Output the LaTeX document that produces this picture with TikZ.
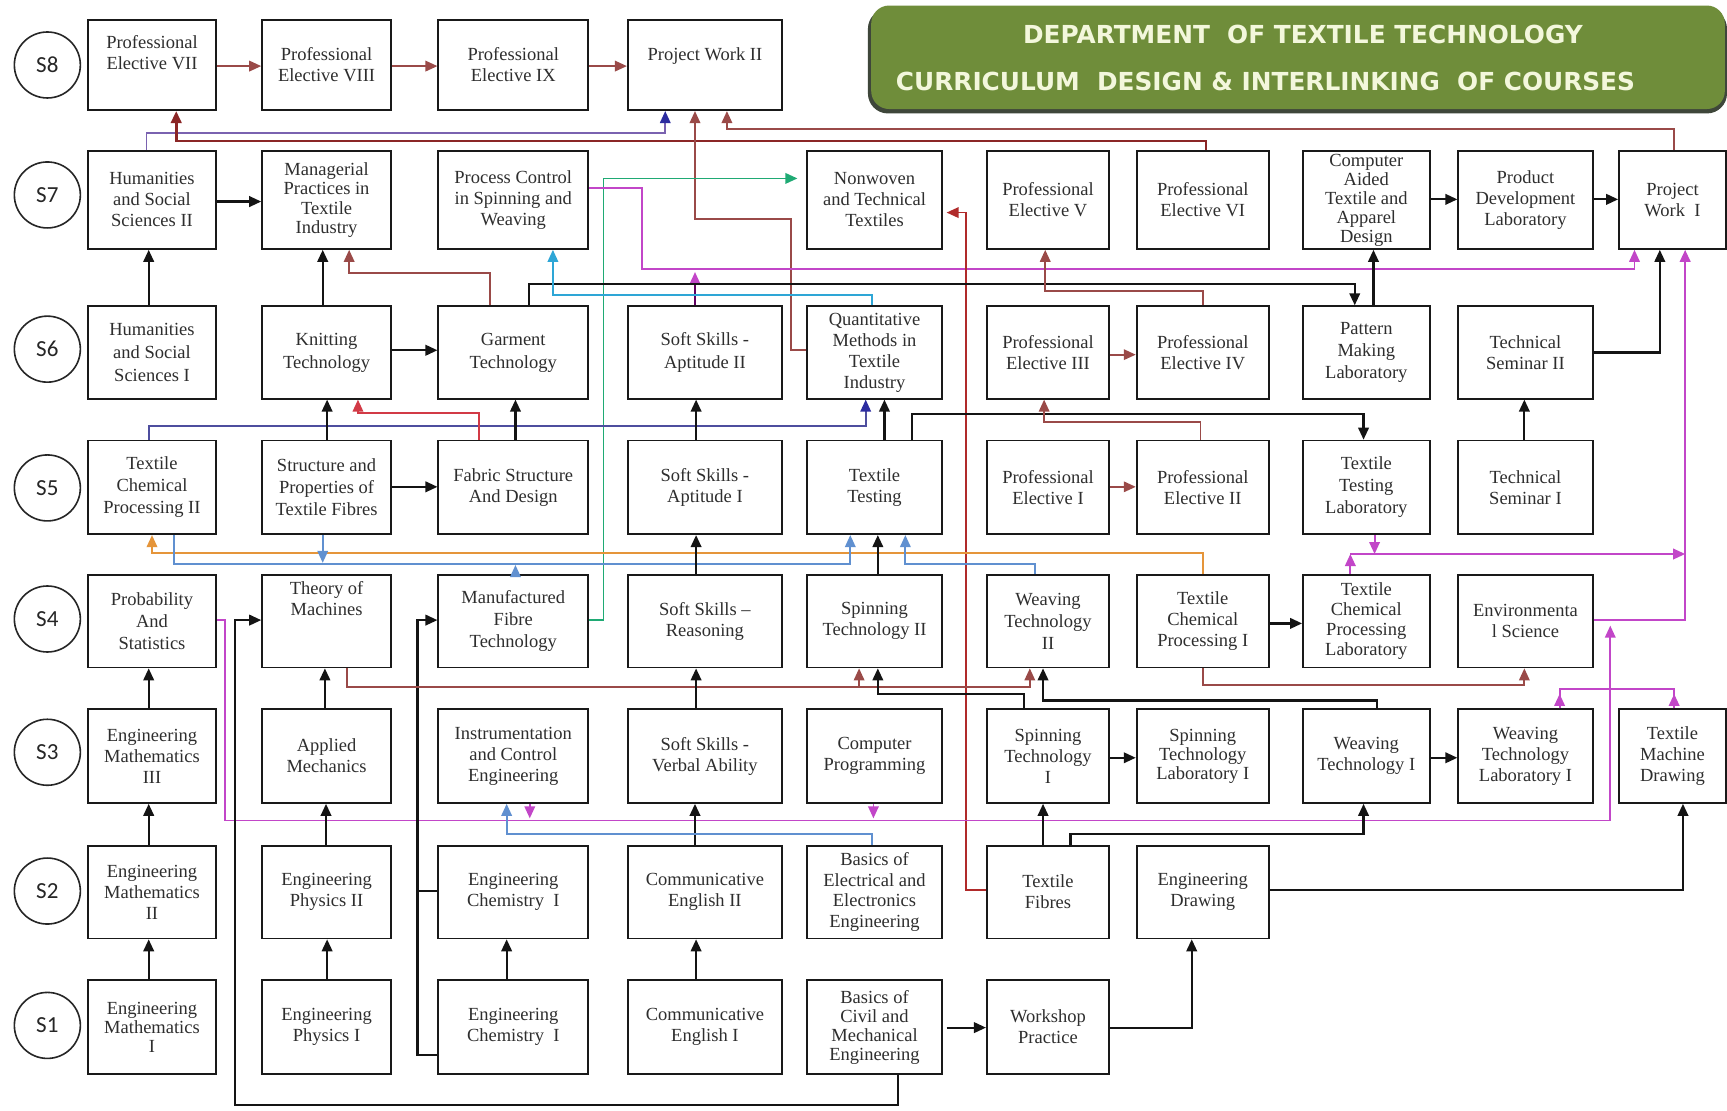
\documentclass[tikz,border=0pt]{standalone}
\usepackage{fontspec}
\setmainfont{Liberation Serif}
\newfontfamily\titlefont{DejaVu Sans}
\newfontfamily\semfont{Carlito}
\usetikzlibrary{arrows.meta}
\definecolor{brn}{HTML}{9A4A48}
\definecolor{dred}{HTML}{8B2626}
\definecolor{redb}{HTML}{B02A2A}
\definecolor{redc}{HTML}{D23A46}
\definecolor{purp}{HTML}{7A62B0}
\definecolor{navy}{HTML}{2C2CA0}
\definecolor{navl}{HTML}{4E4E9E}
\definecolor{grn}{HTML}{1FAA74}
\definecolor{mag}{HTML}{C246C8}
\definecolor{cyn}{HTML}{2EA6D6}
\definecolor{stb}{HTML}{6090D0}
\definecolor{org}{HTML}{E5953A}
\definecolor{tgreen}{HTML}{6F8D3A}
\definecolor{tshadow}{HTML}{3E463A}
\definecolor{tcream}{HTML}{F3F7DC}
\def\XL{{0,80,238,398,570,733,896,1032,1183,1324,1470}}
\def\XR{{0,196,355,534,710,855,1007,1152,1298,1446,1567}}
\def\YT{{0,890,768,644,522,400,278,137,18}}
\def\YB{{0,975,852,729,606,485,362,226,100}}
\tikzset{
  box/.style={draw=black!90, line width=1.8pt, rectangle, inner sep=0pt, fill=white},
  txt/.style={font=\fontsize{18.5}{21}\selectfont, align=center, text=black!82, inner sep=0pt},
  ar/.style={-{Triangle[length=12pt,width=10.5pt]}},
  bl/.style={line width=2.2pt, draw=black!92},
  cl/.style={line width=1.8pt},
  sem/.style={circle, draw=black!85, line width=1.6pt, minimum size=66pt, inner sep=0pt, font=\semfont\fontsize{23}{23}\selectfont, text=black!85},
  ttl/.style={font=\titlefont\bfseries\fontsize{24.8}{26}\selectfont, text=tcream, inner sep=0pt}
}
\newcommand\course[5][]{%
  \pgfmathsetmacro\xa{\XL[#3]}\pgfmathsetmacro\xb{\XR[#3]}%
  \pgfmathsetmacro\ya{\YT[#4]}\pgfmathsetmacro\yb{\YB[#4]}%
  \pgfmathsetmacro\ww{(\xb-\xa)*1.1014}\pgfmathsetmacro\hh{(\yb-\ya)*1.1014}%
  \node[box,minimum width=\ww pt,minimum height=\hh pt] (#2) at ({(\xa+\xb)/2},{(\ya+\yb)/2}) {};%
  \node[txt,#1] (#2-t) at (#2.center) {#5};}
\begin{document}
\begin{tikzpicture}[x=1.1014pt,y=-1.1014pt]
\useasboundingbox[fill=white] (0,0) rectangle (1568,1008);
% title
\fill[tshadow, rounded corners=20pt] (788,8) rectangle (1568,103);
\fill[tgreen, rounded corners=18pt] (791,5) rectangle (1566,99);
\node[ttl] (title1) at (1183,31) {DEPARTMENT\ \ OF TEXTILE TECHNOLOGY};
\node[ttl] (title2) at (1149,74) {CURRICULUM\ \ DESIGN \& INTERLINKING\ \ OF COURSES};
% semesters
\foreach \s/\yy in {8/59,7/177,6/317,5/443,4/562,3/683,2/809,1/931}
  \node[sem] (s\s) at (43,\yy) {S\s};
% S8
\course[yshift=12pt]{pe7}{1}{8}{Professional\\Elective VII}
\course{pe8}{2}{8}{Professional\\Elective VIII}
\course{pe9}{3}{8}{Professional\\Elective IX}
\course[yshift=9pt]{pw2}{4}{8}{Project Work II}
% S7
\course{hss2}{1}{7}{Humanities\\and Social\\Sciences II}
\course[font=\fontsize{18.5}{19.5}\selectfont]{mp}{2}{7}{Managerial\\Practices in\\Textile\\Industry}
\course{pc}{3}{7}{Process Control\\in Spinning and\\Weaving}
\course{nw}{5}{7}{Nonwoven\\and Technical\\Textiles}
\course{pe5}{6}{7}{Professional\\Elective V}
\course{pe6}{7}{7}{Professional\\Elective VI}
\course[font=\fontsize{18.5}{19}\selectfont]{cad}{8}{7}{Computer\\Aided\\Textile and\\Apparel\\Design}
\course{pdl}{9}{7}{Product\\Development\\Laboratory}
\course{pw1}{10}{7}{Project\\Work~~I}
% S6
\course[font=\fontsize{18.5}{23}\selectfont]{hss1}{1}{6}{Humanities\\and Social\\Sciences I}
\course[font=\fontsize{18.5}{23}\selectfont]{kt}{2}{6}{Knitting\\Technology}
\course[font=\fontsize{18.5}{23}\selectfont]{gt}{3}{6}{Garment\\Technology}
\course[font=\fontsize{18.5}{23}\selectfont]{ssa2}{4}{6}{Soft Skills -\\Aptitude II}
\course{qm}{5}{6}{Quantitative\\Methods in\\Textile\\Industry}
\course{pe3}{6}{6}{Professional\\Elective III}
\course{pe4}{7}{6}{Professional\\Elective IV}
\course[font=\fontsize{18.5}{22}\selectfont]{pml}{8}{6}{Pattern\\Making\\Laboratory}
\course{ts2}{9}{6}{Technical\\Seminar II}
% S5
\course[font=\fontsize{18.5}{22}\selectfont]{tcp2}{1}{5}{Textile\\Chemical\\Processing II}
\course[font=\fontsize{18.5}{22}\selectfont]{spf}{2}{5}{Structure and\\Properties of\\Textile Fibres}
\course{fsd}{3}{5}{Fabric Structure\\And Design}
\course{ssa1}{4}{5}{Soft Skills -\\Aptitude I}
\course{tt}{5}{5}{Textile\\Testing}
\course{pe1}{6}{5}{Professional\\Elective I}
\course{pe2}{7}{5}{Professional\\Elective II}
\course[font=\fontsize{18.5}{22}\selectfont]{ttl}{8}{5}{Textile\\Testing\\Laboratory}
\course{ts1}{9}{5}{Technical\\Seminar I}
% S4
\course[font=\fontsize{18.5}{22}\selectfont]{pas}{1}{4}{Probability\\And\\Statistics}
\course[yshift=23pt]{tom}{2}{4}{Theory of\\Machines}
\course[font=\fontsize{18.5}{22}\selectfont]{mft}{3}{4}{Manufactured\\Fibre\\Technology}
\course{ssr}{4}{4}{Soft Skills --\\Reasoning}
\course{st2}{5}{4}{Spinning\\Technology II}
\course[font=\fontsize{18.5}{22}\selectfont]{wt2}{6}{4}{Weaving\\Technology\\II}
\course{tcp1}{7}{4}{Textile\\Chemical\\Processing I}
\course[font=\fontsize{18.5}{20}\selectfont]{tcpl}{8}{4}{Textile\\Chemical\\Processing\\Laboratory}
\course{env}{9}{4}{Environmenta\\l Science}
% S3
\course{em3}{1}{3}{Engineering\\Mathematics\\III}
\course{am}{2}{3}{Applied\\Mechanics}
\course{ice}{3}{3}{Instrumentation\\and Control\\Engineering}
\course{ssv}{4}{3}{Soft Skills -\\Verbal Ability}
\course{cp}{5}{3}{Computer\\Programming}
\course{st1}{6}{3}{Spinning\\Technology\\I}
\course[font=\fontsize{18.5}{19}\selectfont]{stl}{7}{3}{Spinning\\Technology\\Laboratory I}
\course{wt1}{8}{3}{Weaving\\Technology I}
\course{wtl}{9}{3}{Weaving\\Technology\\Laboratory I}
\course{tmd}{10}{3}{Textile\\Machine\\Drawing}
% S2
\course{em2}{1}{2}{Engineering\\Mathematics\\II}
\course{ep2}{2}{2}{Engineering\\Physics II}
\course{ec2}{3}{2}{Engineering\\Chemistry~~I}
\course{ce2}{4}{2}{Communicative\\English II}
\course[font=\fontsize{18.5}{20.5}\selectfont]{bee}{5}{2}{Basics of\\Electrical and\\Electronics\\Engineering}
\course{tf}{6}{2}{Textile\\Fibres}
\course{ed}{7}{2}{Engineering\\Drawing}
% S1
\course[font=\fontsize{18.5}{19}\selectfont]{em1}{1}{1}{Engineering\\Mathematics\\I}
\course{ep1}{2}{1}{Engineering\\Physics I}
\course{ec1}{3}{1}{Engineering\\Chemistry~~I}
\course{ce1}{4}{1}{Communicative\\English I}
\course[font=\fontsize{18.5}{19}\selectfont]{bcm}{5}{1}{Basics of\\Civil and\\Mechanical\\Engineering}
\course{wp}{6}{1}{Workshop\\Practice}

% ---------- connectors ----------
% S8 row
\draw[cl,brn,ar] (pe7.east |- 0,60) -- (pe8.west |- 0,60);
\draw[cl,brn,ar] (pe8.east |- 0,60) -- (pe9.west |- 0,60);
\draw[cl,brn,ar] (pe9.east |- 0,60) -- (pw2.west |- 0,60);
% S7 -> S8
\draw[cl,purp,-{Triangle[length=12pt,width=10.5pt,color=navy]}] (133,0 |- hss2.north) -- (133,121) -- (604,121) -- (604,0 |- pw2.south);
\draw[line width=2.6pt,dred,ar] (1095,0 |- pe6.north) -- (1095,128) -- (160,128) -- (160,0 |- pe7.south);
\draw[cl,brn,ar] (1520,0 |- pw1.north) -- (1520,117) -- (660,117) -- (660,0 |- pw2.south);
\draw[cl,brn,ar] (qm.west |- 0,318) -- (718,318) -- (718,199) -- (631,199) -- (631,0 |- pw2.south);
% S7 row
\draw[bl,ar] (hss2.east |- 0,183) -- (mp.west |- 0,183);
\draw[bl,ar] (cad.east |- 0,181) -- (pdl.west |- 0,181);
\draw[bl,ar] (pdl.east |- 0,181) -- (pw1.west |- 0,181);
\draw[cl,grn,ar,shorten >=9pt] (mft.east |- 0,563) -- (548,563) -- (548,162) -- (nw.west |- 0,162);
\draw[cl,mag,ar] (pc.east |- 0,171) -- (583,171) -- (583,244) -- (1484,244) -- (1484,0 |- pw1.south);
\draw[cl,redb,ar,shorten >=4pt] (tf.west |- 0,808) -- (877,808) -- (877,193) -- (nw.east |- 0,193);
% S6 -> S7
\draw[cl,draw=violet!75!black,-{Triangle[length=12pt,width=10.5pt,color=mag]}] (631,0 |- ssa2.north) -- (631,247);
\draw[bl,ar] (480,0 |- gt.north) -- (480,258) -- (1230,258) -- (1230,0 |- pml.north);
\draw[cl,cyn,ar] (792,0 |- qm.north) -- (792,268) -- (502,268) -- (502,0 |- pc.south);
\draw[cl,brn,ar] (445,0 |- gt.north) -- (445,248) -- (317,248) -- (317,0 |- mp.south);
\draw[bl,ar] (293,0 |- kt.north) -- (293,0 |- mp.south);
\draw[bl,ar] (135,0 |- hss1.north) -- (135,0 |- hss2.south);
\draw[cl,brn,ar] (1092,0 |- pe4.north) -- (1092,264) -- (949,264) -- (949,0 |- pe5.south);
\draw[bl,ar] (1247,0 |- pml.north) -- (1247,0 |- cad.south);
\draw[bl,ar] (ts2.east |- 0,320) -- (1507,320) -- (1507,0 |- pw1.south);
\draw[line width=2.3pt,mag,ar] (env.east |- 0,563) -- (1530,563) -- (1530,0 |- pw1.south);
% S6 row
\draw[bl,ar] (kt.east |- 0,318) -- (gt.west |- 0,318);
\draw[cl,brn,ar] (pe3.east |- 0,322) -- (pe4.west |- 0,322);
% S5 -> S6
\draw[cl,navl,-{Triangle[length=12pt,width=10.5pt,color=navy]}] (135,0 |- tcp2.north) -- (135,387) -- (786,387) -- (786,0 |- qm.south);
\draw[cl,redc,ar] (435,0 |- fsd.north) -- (435,375) -- (325,375) -- (325,0 |- kt.south);
\draw[bl,ar] (297,0 |- spf.north) -- (297,0 |- kt.south);
\draw[bl,ar] (468,0 |- fsd.north) -- (468,0 |- gt.south);
\draw[bl,ar] (632,0 |- ssa1.north) -- (632,0 |- ssa2.south);
\draw[bl,ar] (803,0 |- tt.north) -- (803,0 |- qm.south);
\draw[bl,ar] (828,0 |- tt.north) -- (828,376) -- (1238,376) -- (1238,0 |- ttl.north);
\draw[cl,brn,ar] (1090,0 |- pe2.north) -- (1090,383) -- (948,383) -- (948,0 |- pe3.south);
\draw[bl,ar] (1384,0 |- ts1.north) -- (1384,0 |- ts2.south);
% S5 row
\draw[bl,ar] (spf.east |- 0,442) -- (fsd.west |- 0,442);
\draw[cl,brn,ar] (pe1.east |- 0,442) -- (pe2.west |- 0,442);
% S4 -> S5
\draw[cl,org,ar] (1092,0 |- tcp1.north) -- (1092,502) -- (138,502) -- (138,0 |- tcp2.south);
\draw[cl,stb,ar] (158,0 |- tcp2.south) -- (158,512) -- (772,512) -- (772,0 |- tt.south);
\draw[cl,stb,ar] (293,0 |- spf.south) -- (293,511);
\draw[cl,stb,ar] (468,0 |- mft.north) -- (468,513);
\draw[cl,stb,ar] (940,0 |- wt2.north) -- (940,512) -- (822,512) -- (822,0 |- tt.south);
\draw[bl,ar] (797,0 |- st2.north) -- (797,0 |- tt.south);
\draw[bl,ar] (632,0 |- ssr.north) -- (632,0 |- ssa1.south);
\draw[line width=2pt,mag,ar] (1226,0 |- tcpl.north) -- (1226,503);
\draw[line width=2pt,mag,ar] (1248,0 |- ttl.south) -- (1248,503);
\draw[line width=2pt,mag,ar] (1226,503) -- (1530,503);
% S4 row
\draw[bl,ar] (tcp1.east |- 0,566) -- (tcpl.west |- 0,566);
\draw[cl,mag,ar] (pas.east |- 0,563) -- (204,563) -- (204,745) -- (1462,745) -- (1462,568);
\draw[bl,ar] (815,0 |- bcm.south) -- (815,1003) -- (213,1003) -- (213,563) -- (tom.west |- 0,563);
\draw[bl] (ec2.west |- 0,809) -- (379,809);
\draw[bl,ar] (ec1.west |- 0,958) -- (379,958) -- (379,563) -- (mft.west |- 0,563);
% S3 -> S4
\draw[cl,brn,ar] (315,0 |- tom.south) -- (315,624) -- (935,624) -- (935,0 |- wt2.south);
\draw[cl,brn,ar] (780,624) -- (780,0 |- st2.south);
\draw[bl,ar] (930,0 |- st1.north) -- (930,630) -- (797,630) -- (797,0 |- st2.south);
\draw[bl,ar] (1250,0 |- wt1.north) -- (1250,636) -- (947,636) -- (947,0 |- wt2.south);
\draw[cl,brn,ar] (1092,0 |- tcp1.south) -- (1092,622) -- (1384,622) -- (1384,0 |- env.south);
\draw[line width=2pt,mag] (1416,0 |- wtl.north) -- (1416,626) -- (1520,626) -- (1520,0 |- tmd.north);
\draw[line width=2pt,mag,ar] (1416,0 |- wtl.north) -- (1416,630);
\draw[line width=2pt,mag,ar] (1520,0 |- tmd.north) -- (1520,630);
\draw[bl,ar] (135,0 |- em3.north) -- (135,0 |- pas.south);
\draw[bl,ar] (295,0 |- am.north) -- (295,0 |- tom.south);
\draw[bl,ar] (632,0 |- ssv.north) -- (632,0 |- ssr.south);
% S3 row
\draw[bl,ar] (st1.east |- 0,688) -- (stl.west |- 0,688);
\draw[bl,ar] (wt1.east |- 0,688) -- (wtl.west |- 0,688);
% S2 -> S3
\draw[bl,ar] (296,0 |- ep2.north) -- (296,0 |- am.south);
\draw[bl,ar] (135,0 |- em2.north) -- (135,0 |- em3.south);
\draw[bl,ar] (631,0 |- ce2.north) -- (631,0 |- ssv.south);
\draw[cl,stb,ar] (792,0 |- bee.north) -- (792,757) -- (460,757) -- (460,0 |- ice.south);
\draw[cl,mag,ar] (481,0 |- ice.south) -- (481,743);
\draw[cl,mag,ar] (793,0 |- cp.south) -- (793,743);
\draw[bl,ar] (947,0 |- tf.north) -- (947,0 |- st1.south);
\draw[bl,ar] (972,0 |- tf.north) -- (972,757) -- (1238,757) -- (1238,0 |- wt1.south);
\draw[bl,ar] (ed.east |- 0,808) -- (1528,808) -- (1528,0 |- tmd.south);
% S1 -> S2
\draw[bl,ar] (135,0 |- em1.north) -- (135,0 |- em2.south);
\draw[bl,ar] (297,0 |- ep1.north) -- (297,0 |- ep2.south);
\draw[bl,ar] (460,0 |- ec1.north) -- (460,0 |- ec2.south);
\draw[bl,ar] (632,0 |- ce1.north) -- (632,0 |- ce2.south);
\draw[bl,ar,shorten <=4pt] (bcm.east |- 0,933) -- (wp.west |- 0,933);
\draw[bl,ar] (wp.east |- 0,933) -- (1082,933) -- (1082,0 |- ed.south);
\end{tikzpicture}
\end{document}
